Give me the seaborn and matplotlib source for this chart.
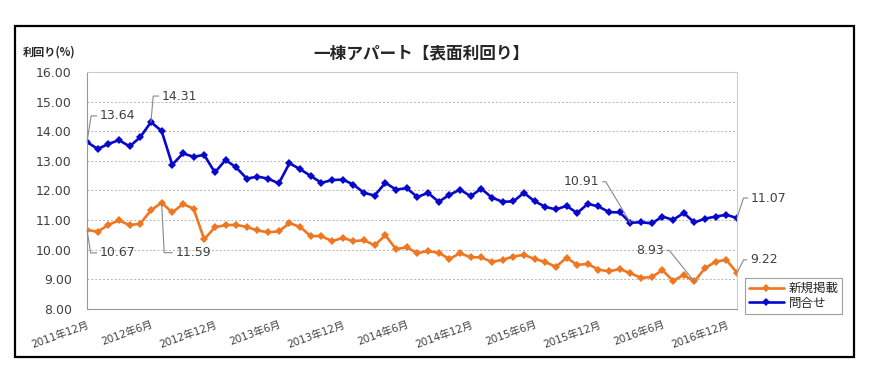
import pandas as pd
import seaborn as sns
import matplotlib.pyplot as plt
from matplotlib.patches import Rectangle

# monthly yields (%) for one-building apartments, 2011/12 - 2017/01
months = pd.period_range('2011-12', periods=62, freq='M')
month_labels = ['{}年{}月'.format(p.year, p.month) for p in months]

new_listing = [10.67, 10.61, 10.84, 10.99, 10.83, 10.88, 11.33, 11.59, 11.26, 11.54,
               11.39, 10.35, 10.76, 10.83, 10.84, 10.77, 10.65, 10.59, 10.62, 10.90,
               10.77, 10.46, 10.46, 10.29, 10.40, 10.29, 10.32, 10.15, 10.49, 10.02,
               10.08, 9.89, 9.95, 9.90, 9.69, 9.88, 9.75, 9.74, 9.59, 9.66,
               9.77, 9.83, 9.69, 9.59, 9.42, 9.73, 9.49, 9.52, 9.33, 9.27,
               9.35, 9.21, 9.05, 9.08, 9.31, 8.95, 9.15, 8.93, 9.38, 9.60,
               9.66, 9.22]

inquiry = [13.64, 13.40, 13.57, 13.70, 13.49, 13.80, 14.31, 14.01, 12.87, 13.25,
           13.14, 13.20, 12.61, 13.03, 12.78, 12.40, 12.47, 12.40, 12.24, 12.92,
           12.72, 12.49, 12.26, 12.35, 12.37, 12.20, 11.92, 11.83, 12.26, 12.03,
           12.08, 11.78, 11.92, 11.62, 11.85, 12.03, 11.81, 12.06, 11.76, 11.62,
           11.63, 11.92, 11.64, 11.45, 11.36, 11.48, 11.24, 11.55, 11.46, 11.27,
           11.26, 10.91, 10.93, 10.89, 11.12, 11.01, 11.24, 10.92, 11.05, 11.12,
           11.18, 11.07]

series_names = ['新規掲載', '問合せ']
colors = {'新規掲載': '#ee7722', '問合せ': '#0808cc'}

# callouts: (series, month index, dx px, dy px, ha, leader angle)
callouts = [
    ('問合せ', 0, 13, 26, 'left', 81),
    ('問合せ', 6, 11, 26, 'left', 85),
    ('新規掲載', 0, 13, -23, 'left', -81),
    ('新規掲載', 7, 14, -50, 'left', -87),
    ('問合せ', 51, -31, 41, 'right', 121),
    ('新規掲載', 57, -31, 31, 'right', 129),
    ('問合せ', 61, 14, 20, 'left', 72),
    ('新規掲載', 61, 13, 13, 'left', 63),
]

df = pd.concat([
    pd.DataFrame({'pos': range(len(new_listing)), 'value': new_listing, 'series': '新規掲載'}),
    pd.DataFrame({'pos': range(len(inquiry)), 'value': inquiry, 'series': '問合せ'}),
])

sns.set_style('white')
plt.rcParams['font.family'] = ['DejaVu Sans', 'Noto Sans CJK JP']

fig = plt.figure(figsize=(8.84, 3.79), dpi=100)
ax = fig.add_axes([87 / 884, 1 - 309 / 379, 650 / 884, 237 / 379])

sns.lineplot(data=df, x='pos', y='value', hue='series', style='series',
             hue_order=series_names, style_order=series_names,
             palette=colors, markers={'新規掲載': 'D', '問合せ': 'D'},
             dashes=False, markersize=3.8, markeredgewidth=0, linewidth=1.9,
             ax=ax)

ax.set_xlim(0, len(month_labels) - 1)
ax.set_ylim(8, 16)
ax.set_yticks(range(8, 17))
ax.set_yticklabels(['{:.2f}'.format(v) for v in range(8, 17)])
ax.set_xticks(range(0, len(month_labels), 6))
ax.set_xticklabels(month_labels[::6], rotation=20, ha='right',
                   rotation_mode='anchor', fontsize=7.5, color='#404040')
ax.tick_params(axis='x', direction='inout', length=5, width=0.8,
               color='#999999', pad=5)
ax.tick_params(axis='y', length=0, pad=11, labelsize=9, labelcolor='#404040')
ax.set_xlabel('')
ax.set_ylabel('')

ax.grid(axis='y', color='#b5b5b5', linestyle=(0, (2, 2)), linewidth=0.7)
for side in ['left', 'bottom']:
    ax.spines[side].set_color('#999999')
for side in ['top', 'right']:
    ax.spines[side].set_color('#cccccc')

series_values = {'新規掲載': new_listing, '問合せ': inquiry}
for name, idx, dx, dy, ha, ang in callouts:
    val = series_values[name][idx]
    ax.annotate('{:.2f}'.format(val), xy=(idx, val), xytext=(dx, dy),
                textcoords='offset pixels', ha=ha, va='center',
                fontsize=9, color='#404040',
                arrowprops=dict(arrowstyle='-', color='#888888', lw=0.8,
                                shrinkA=0, shrinkB=0,
                                relpos=(0, 0.5) if ha == 'left' else (1, 0.5),
                                connectionstyle='angle,angleA=0,angleB={},rad=0'.format(ang)))

sns.move_legend(ax, 'upper left', bbox_to_anchor=(1.012, 0.13), title=None,
                frameon=True, fancybox=False, edgecolor='#888888',
                prop={'size': 9, 'family': ['Noto Sans CJK JP', 'DejaVu Sans']},
                borderaxespad=0, borderpad=0.3, labelspacing=0.15,
                handlelength=2.8, handletextpad=0.4)
leg = ax.get_legend()
leg.get_frame().set_linewidth(0.8)

fig.text(421 / 884, 1 - 53 / 379, '一棟アパート【表面利回り】', ha='center',
         va='center', fontsize=12, fontweight='bold',
         family=['Noto Sans CJK JP', 'DejaVu Sans'])
fig.text(23 / 884, 1 - 52 / 379, '利回り(%)', ha='left', va='center',
         fontsize=8, fontweight='bold',
         family=['Noto Sans CJK JP', 'DejaVu Sans'])

fig.add_artist(Rectangle((15 / 884, 1 - 357 / 379), 839 / 884, 331 / 379,
                         transform=fig.transFigure, fill=False,
                         edgecolor='black', linewidth=1.6))

fig.savefig('out.png', dpi=100)
